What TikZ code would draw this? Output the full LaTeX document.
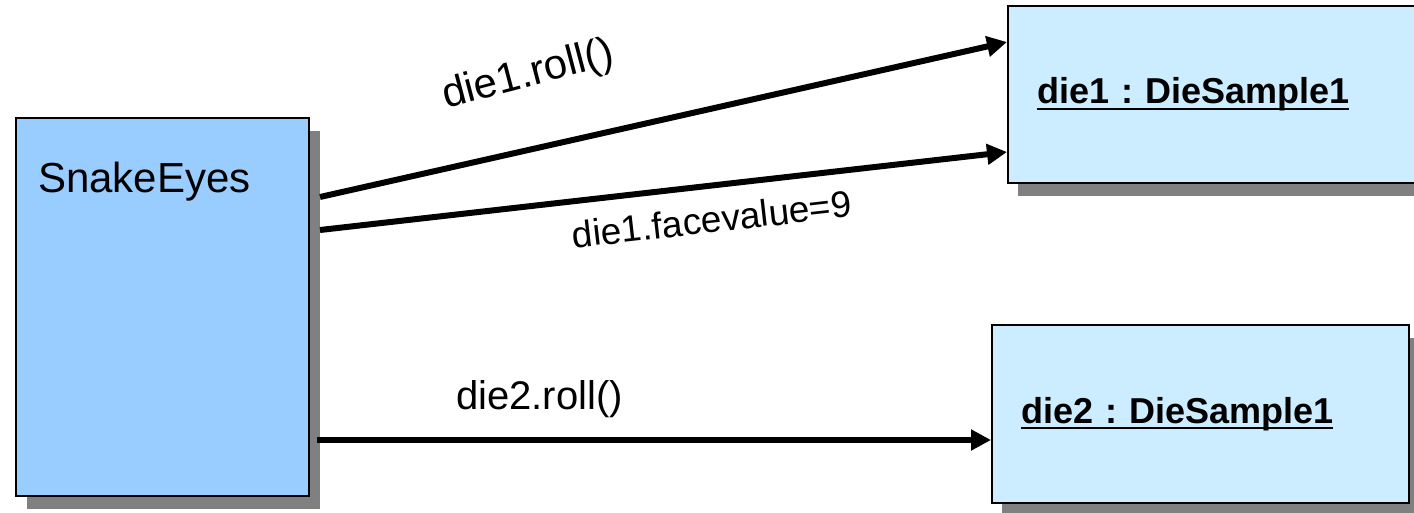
\documentclass[tikz,border=0pt]{standalone}
\usepackage{fontspec}
\setmainfont{Liberation Sans}
\usetikzlibrary{arrows.meta,shadows}
\definecolor{seBlue}{HTML}{99CCFF}
\definecolor{seLightBlue}{HTML}{CCECFF}
\definecolor{seShadow}{HTML}{808080}
% underlined object name, rule sits just under the baseline
\newcommand{\objname}[1]{\setbox0=\hbox{#1}\rlap{\rule[-6pt]{\wd0}{2pt}}\box0}
\frenchspacing
\tikzset{
  % Caller object (blue, tall)
  callbox/.style={rectangle,anchor=north west,
    minimum width=293pt,minimum height=378pt,
    draw=black,line width=2pt,fill=seBlue,
    drop shadow={shadow xshift=11pt,shadow yshift=-13pt,
      fill=seShadow,opacity=1}},
  % Receiver object (light blue)
  objbox/.style={rectangle,anchor=north west,
    align=left,inner xsep=29pt,
    draw=black,line width=2pt,fill=seLightBlue,
    font=\fontsize{36}{42}\selectfont\bfseries,
    drop shadow={shadow xshift=10pt,shadow yshift=-13pt,
      fill=seShadow,opacity=1}},
  title/.style={font=\fontsize{42}{48}\selectfont,inner sep=0pt},
  % Messages
  msg/.style={-{Triangle[length=20pt,width=20pt]},line width=6pt,black},
  lbl/.style={font=\fontsize{40}{46}\selectfont,inner sep=0pt},
}
\begin{document}
\begin{tikzpicture}[x=1pt,y=-1pt]
  \useasboundingbox (0,0) rectangle (1414,512);

  \node[callbox] (snake) at (15,117) {};
  \node[title,anchor=base west] (snaketitle)
    at ([shift={(23,75)}]snake.north west) {SnakeEyes};

  \node[objbox,text width=372pt,minimum height=177pt] (die1)
    at (1007,5) {\objname{die1 : DieSample1}};
  \node[objbox,text width=359pt,minimum height=178pt] (die2)
    at (991,324) {\objname{die2 : DieSample1}};

  \draw[msg] ([shift={(10,80)}]snake.north east)
    -- node[lbl,sloped,rotate=2,above=50pt,pos=0.33,
            font=\fontsize{42}{48}\selectfont] {die1.roll()}
    ([yshift=-37pt]die1.north west);
  \draw[msg] ([shift={(10,113)}]snake.north east)
    -- node[lbl,sloped,below=17pt,pos=0.565,
            font=\fontsize{37}{43}\selectfont] {die1.facevalue=9}
    ([yshift=-147pt]die1.north west);
  \draw[msg] ([shift={(7,323)}]snake.north east)
    -- node[lbl,above=19pt,pos=0.33] {die2.roll()}
    ([yshift=-116pt]die2.north west);
\end{tikzpicture}
\end{document}
